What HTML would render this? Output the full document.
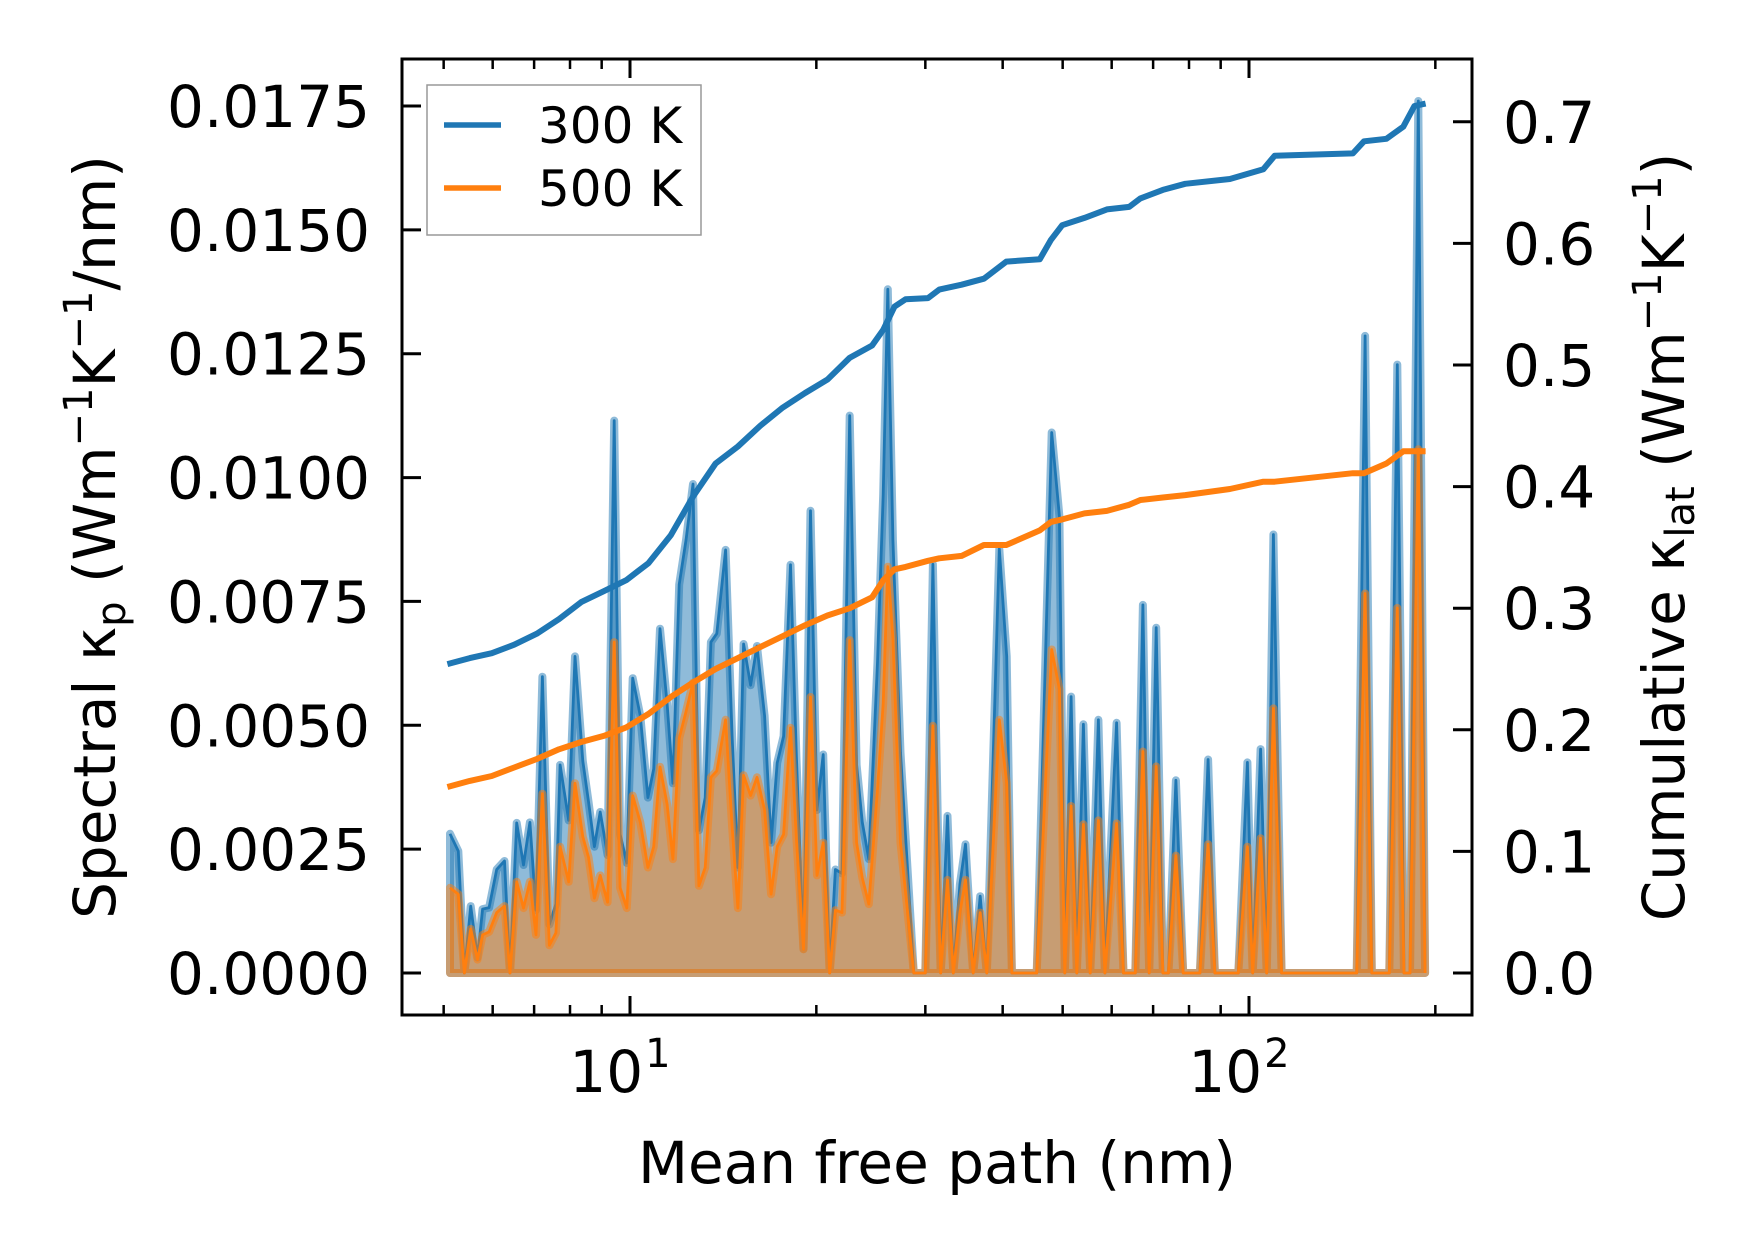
<!DOCTYPE html>
<html><head><meta charset="utf-8"><style>
html,body{margin:0;padding:0;background:#fff;}
svg{display:block;font-family:"DejaVu Sans","Liberation Sans",sans-serif;}
</style></head><body>
<svg id="chart" width="1753" height="1254" viewBox="0 0 1753 1254" xmlns="http://www.w3.org/2000/svg">
<rect width="1753" height="1254" fill="#fff"/>
<g id="plot"></g>
</svg>
<script>
// ---- data ----
const mfp = [5.12,5.28,5.40,5.53,5.67,5.78,5.92,6.09,6.27,6.40,6.56,6.73,6.89,7.05,7.22,7.41,7.59,7.71,7.96,8.15,8.39,8.57,8.76,8.95,9.20,9.43,9.64,9.88,10.10,10.39,10.69,10.92,11.18,11.48,11.73,12.01,12.32,12.64,12.92,13.23,13.51,13.81,14.27,14.62,14.94,15.26,15.66,16.04,16.50,16.90,17.29,17.71,18.17,18.57,19.07,19.57,20.05,20.52,21.02,21.47,22.00,22.64,23.23,23.73,24.31,25.11,25.65,26.09,26.59,27.35,28.74,30.00,30.86,31.76,32.58,33.29,34.11,34.84,35.85,36.79,37.7,39.5,40.6,41.4,45.4,48.0,49.4,50.4,51.6,52.7,54.0,55.4,57.1,58.5,61.1,62.7,65.5,67.4,69.0,70.8,72.6,74.1,76.2,78.3,83.3,85.9,88.1,96.1,99.4,101.4,104.4,106.8,109.5,112.9,149.3,154.0,157.9,168.5,173.6,178.0,182.0,187.7,192.5];
const kappa300 = [0.00281,0.00246,0,0.00135,0.00031,0.00129,0.00132,0.00209,0.00226,0,0.00303,0.00218,0.00304,0.00127,0.00598,0.00098,0.00139,0.0042,0.00308,0.00639,0.00428,0.00346,0.00255,0.00325,0.00238,0.01115,0.0028,0.00222,0.00595,0.00519,0.00354,0.00412,0.00695,0.00544,0.00383,0.00784,0.00875,0.00987,0.00288,0.00354,0.00668,0.00685,0.00854,0.00478,0.00213,0.00664,0.00581,0.0066,0.00519,0.00263,0.00424,0.00478,0.00824,0.00437,0.00048,0.00933,0.00329,0.00441,0,0.00209,0.00201,0.01125,0.0042,0.00304,0.0023,0.00627,0.00966,0.0138,0.00875,0.00445,0,0,0.00825,0,0.00317,0,0.00179,0.0026,0,0.00155,0,0.00856,0.00639,0,0,0.01091,0.00922,0,0.00558,0,0.00502,0,0.00511,0,0.00505,0,0,0.00743,0,0.00697,0,0,0.00389,0,0,0.00431,0,0,0.00425,0,0.00452,0,0.00885,0,0,0.01286,0,0,0.01228,0,0,0.0176,0];
const kappa500 = [0.00172,0.00159,0,0.00089,0.00027,0.00077,0.00083,0.00122,0.00135,0,0.00184,0.00131,0.00184,0.00077,0.00362,0.00056,0.00081,0.00255,0.00184,0.00383,0.00275,0.00234,0.00151,0.00197,0.00143,0.00668,0.00172,0.00131,0.00358,0.00304,0.00213,0.00255,0.00416,0.00341,0.0023,0.00474,0.00528,0.00586,0.00176,0.00213,0.00395,0.00408,0.00511,0.00296,0.00131,0.00399,0.00358,0.00395,0.00329,0.00159,0.00255,0.0028,0.00495,0.00271,0.00048,0.00557,0.00197,0.00263,0,0.00127,0.00122,0.00672,0.00263,0.00192,0.00139,0.00371,0.00544,0.0082,0.00676,0.00263,0,0,0.00499,0,0.00188,0,0.00122,0.00188,0,0.00122,0,0.00511,0.00384,0,0,0.00653,0.00573,0,0.00337,0,0.003,0,0.00308,0,0.00302,0,0,0.00447,0,0.00417,0,0,0.00237,0,0,0.0026,0,0,0.00255,0,0.00272,0,0.00534,0,0,0.00766,0,0,0.00737,0,0,0.01057,0];
const cumMfp = [5.07,5.51,5.98,6.50,7.07,7.68,8.34,9.07,9.86,10.71,11.64,12.65,13.75,14.94,16.23,17.65,19.18,20.84,22.65,24.61,25.66,26.75,27.88,30.30,31.59,34.33,37.30,40.54,45.92,47.87,49.91,54.24,58.94,64.05,66.77,72.57,78.86,93.13,105.5,110.0,147.2,153.4,166.7,177.5,185.0,192.9];
const cum300 = [0.254,0.259,0.263,0.270,0.279,0.291,0.305,0.314,0.323,0.337,0.360,0.392,0.419,0.433,0.450,0.465,0.477,0.488,0.506,0.516,0.529,0.548,0.554,0.555,0.562,0.566,0.571,0.585,0.587,0.603,0.615,0.621,0.628,0.630,0.637,0.644,0.649,0.653,0.661,0.672,0.674,0.684,0.686,0.696,0.713,0.715];
const cum500 = [0.153,0.158,0.162,0.169,0.176,0.184,0.190,0.195,0.202,0.213,0.227,0.239,0.250,0.259,0.268,0.277,0.286,0.294,0.300,0.309,0.323,0.332,0.334,0.339,0.341,0.343,0.352,0.352,0.364,0.371,0.373,0.378,0.380,0.385,0.389,0.391,0.393,0.398,0.404,0.404,0.411,0.411,0.419,0.429,0.429,0.429];
const leftTicks = [0,0.0025,0.005,0.0075,0.01,0.0125,0.015,0.0175];
const leftTickLabels = ["0.0000","0.0025","0.0050","0.0075","0.0100","0.0125","0.0150","0.0175"];
const rightTicks = [0,0.1,0.2,0.3,0.4,0.5,0.6,0.7];
const rightTickLabels = ["0.0","0.1","0.2","0.3","0.4","0.5","0.6","0.7"];
const xMajor = [10,100];
const xMinor = [5,6,7,8,9,20,30,40,50,60,70,80,90,200];

// ---- axes ----
const L=402,R=1472,T=59,B=1015;
const X = m => 630 + 619*(Math.log10(m)-1);
const YL = v => 973 - v*49543;
const YR = v => 973 - v*1216;
const NS="http://www.w3.org/2000/svg";
const g=document.getElementById('plot');
function mk(tag,attrs,parent){const e=document.createElementNS(NS,tag);for(const k in attrs)e.setAttribute(k,attrs[k]);(parent||g).appendChild(e);return e;}
function pts(xs,ys,f){return xs.map((x,i)=>X(x).toFixed(1)+','+f(ys[i]).toFixed(1)).join(' ');}

function spectral(ys,color,name){
  const poly = X(mfp[0]).toFixed(1)+','+YL(0)+' '+pts(mfp,ys,YL)+' '+X(mfp[mfp.length-1]).toFixed(1)+','+YL(0);
  const f=mk('polygon',{points:poly,fill:color,'fill-opacity':0.5,stroke:color,'stroke-opacity':0.5,'stroke-width':8,'stroke-linejoin':'round'});
  
  
  const l=mk('polyline',{points:pts(mfp,ys,YL),fill:'none',stroke:color,'stroke-width':2.8,'stroke-linejoin':'round'});
  
  
}
spectral(kappa300,'#1f77b4','spectral-300k');
spectral(kappa500,'#ff7f0e','spectral-500k');
const c1=mk('polyline',{points:pts(cumMfp,cum300,YR),fill:'none',stroke:'#1f77b4','stroke-width':6,'stroke-linejoin':'round'});


const c2=mk('polyline',{points:pts(cumMfp,cum500,YR),fill:'none',stroke:'#ff7f0e','stroke-width':6,'stroke-linejoin':'round'});



// frame
const fr=mk('rect',{x:L,y:T,width:R-L,height:B-T,fill:'none',stroke:'#000','stroke-width':3});



leftTicks.forEach((v,i)=>{
  const y=YL(v);
  const t=mk('line',{x1:L,x2:L+19,y1:y,y2:y,stroke:'#000','stroke-width':3});
  
  
  const tx=mk('text',{x:370,y:y+21,'text-anchor':'end','font-size':58,fill:'#000'});
  tx.textContent=leftTickLabels[i];
  
  
});
rightTicks.forEach((v,i)=>{
  const y=YR(v);
  const t=mk('line',{x1:R-19,x2:R,y1:y,y2:y,stroke:'#000','stroke-width':3});
  
  
  const tx=mk('text',{x:1503,y:y+21,'text-anchor':'start','font-size':58,fill:'#000'});
  tx.textContent=rightTickLabels[i];
  
  
});
xMajor.forEach((m,i)=>{
  const x=X(m);
  [[B,B-19],[T,T+19]].forEach(p=>{
    const t=mk('line',{x1:x,x2:x,y1:p[0],y2:p[1],stroke:'#000','stroke-width':3});
    
    
  });
  const tx=mk('text',{x:x-10,y:1092,'text-anchor':'middle','font-size':58,fill:'#000'});
  tx.textContent='10';
  
  
  const sp=mk('tspan',{dx:2,dy:-25,'font-size':40},tx);
  sp.textContent=String(i+1);
});
xMinor.forEach(m=>{
  const x=X(m);
  [[B,B-10],[T,T+10]].forEach(p=>{
    const t=mk('line',{x1:x,x2:x,y1:p[0],y2:p[1],stroke:'#000','stroke-width':2.5});
    
    
  });
});
</script>
<svg style="position:absolute;left:0;top:0" width="1753" height="1254" viewBox="0 0 1753 1254" xmlns="http://www.w3.org/2000/svg" font-family="DejaVu Sans, Liberation Sans, sans-serif">
<g>
<rect x="427" y="85" width="274" height="150" fill="#fff" fill-opacity="0.8" stroke="#999" stroke-width="1.5"/>
<line x1="444" x2="501" y1="125" y2="125" stroke="#1f77b4" stroke-width="5.5"/>
<text x="538" y="143" font-size="50">300 K</text>
<line x1="444" x2="501" y1="188" y2="188" stroke="#ff7f0e" stroke-width="5.5"/>
<text x="538" y="206" font-size="50">500 K</text>
</g>
<text x="937" y="1183" font-size="58" text-anchor="middle">Mean free path (nm)</text>
<text transform="translate(115,537) rotate(-90)" font-size="58" text-anchor="middle">Spectral κ<tspan font-size="40" dy="10">p</tspan><tspan dy="-10"> (Wm</tspan><tspan font-size="40" dy="-23">−1</tspan><tspan dy="23">K</tspan><tspan font-size="40" dy="-23">−1</tspan><tspan dy="23">/nm)</tspan></text>
<text transform="translate(1684,537) rotate(-90)" font-size="58" text-anchor="middle">Cumulative κ<tspan font-size="40" dy="10">lat</tspan><tspan dy="-10"> (Wm</tspan><tspan font-size="40" dy="-23">−1</tspan><tspan dy="23">K</tspan><tspan font-size="40" dy="-23">−1</tspan><tspan dy="23">)</tspan></text>
</svg>
</body></html>
